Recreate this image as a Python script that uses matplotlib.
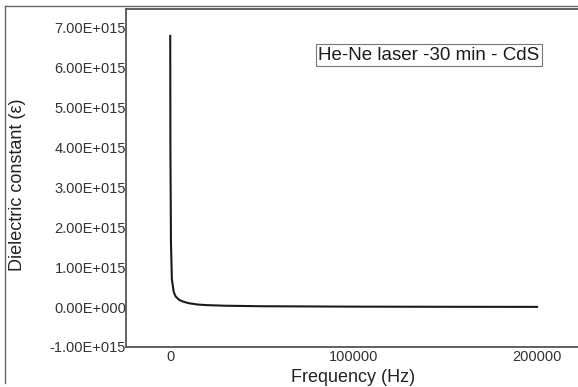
import numpy as np
import matplotlib
matplotlib.use('Agg')
import matplotlib.pyplot as plt
from matplotlib.lines import Line2D

# data
freq = [100, 200, 500, 1000, 2000, 3000, 5000, 7000, 10000, 15000, 20000,
        30000, 50000, 100000, 150000, 200000]
eps = [6.8e15, 4.0e15, 1.6e15, 0.7e15, 0.38e15, 0.27e15, 0.18e15, 0.14e15,
       0.10e15, 0.065e15, 0.05e15, 0.035e15, 0.022e15, 0.012e15, 0.008e15,
       0.006e15]
y_ticks = [-1e15, 0, 1e15, 2e15, 3e15, 4e15, 5e15, 6e15, 7e15]
y_labels = ['-1.00E+015', '0.00E+000', '1.00E+015', '2.00E+015', '3.00E+015',
            '4.00E+015', '5.00E+015', '6.00E+015', '7.00E+015']
x_ticks = [0, 100000, 200000]
x_labels = ['0', '100000', '200000']
label_txt = 'He-Ne laser -30 min - CdS'

plt.rcParams['font.family'] = ['Liberation Sans', 'DejaVu Sans']

W, H = 578, 387
fig = plt.figure(figsize=(W / 100, H / 100), dpi=100)
ax = fig.add_axes([126 / W, 1 - 347 / H, 1 - 126 / W, (347 - 9) / H])

ax.plot(freq, eps, color='#1a1a1a', linewidth=1.5)
ax.set_xlim(-24000, 222300)
ax.set_ylim(-1e15, 7.475e15)
ax.set_xticks(x_ticks)
ax.set_xticklabels(x_labels)
ax.set_yticks(y_ticks)
ax.set_yticklabels(y_labels)
ax.tick_params(length=0, labelsize=10.5, colors='#333333', pad=0)
ax.tick_params(axis='x', pad=2)
ax.spines['right'].set_visible(False)
for s in ['left', 'bottom', 'top']:
    ax.spines[s].set_color('#555555')
    ax.spines[s].set_linewidth(1.3)

# label box, placed in pixel coordinates
fig.text(429 / W, 1 - 55 / H, label_txt, fontsize=13.5, ha='center', va='center',
         color='#1a1a1a',
         bbox=dict(boxstyle='square,pad=0.12', facecolor='white',
                   edgecolor='#777777', linewidth=0.8))

fig.text(353 / W, 1 - 377 / H, 'Frequency (Hz)', fontsize=13, ha='center',
         va='center', color='#222222')
fig.text(18 / W, 1 - 185 / H, 'Dielectric constant (\u03b5)', fontsize=13,
         ha='center', va='center', rotation=90, color='#222222')

# outer frame
fig.add_artist(Line2D([5 / W, 5 / W], [1 - 383 / H, 1 - 6 / H], color='#666666',
                      linewidth=1.0, transform=fig.transFigure))
fig.add_artist(Line2D([5 / W, 1], [1 - 6 / H, 1 - 6 / H], color='#666666',
                      linewidth=1.0, transform=fig.transFigure))

fig.savefig('out.png', dpi=100)
